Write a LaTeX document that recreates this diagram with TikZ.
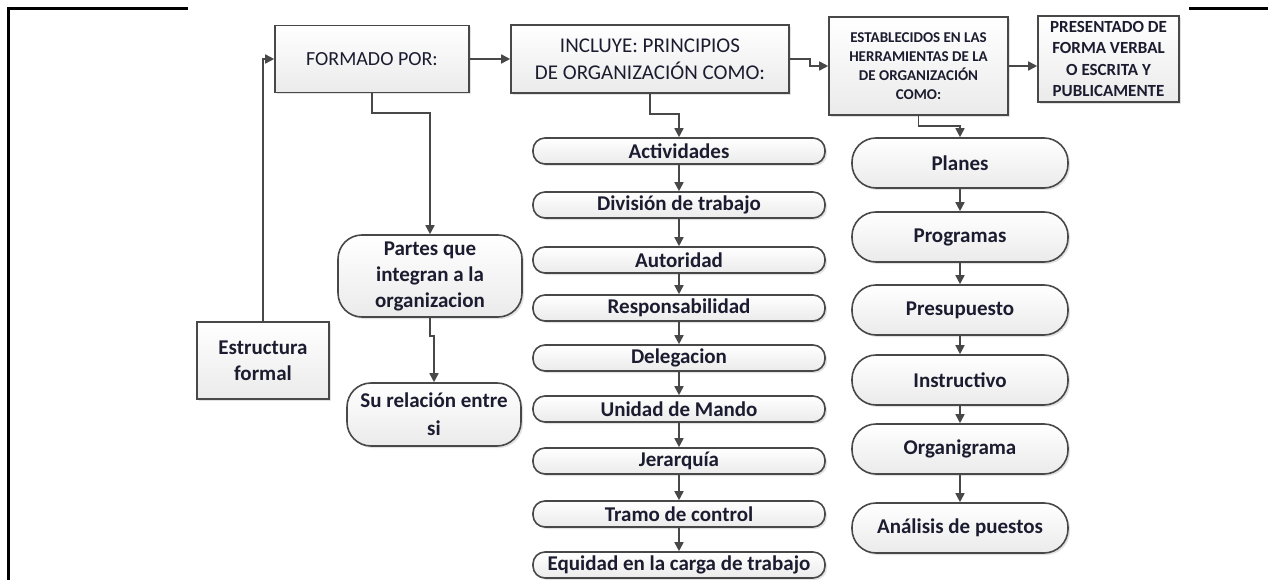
\documentclass[tikz,border=0pt]{standalone}
\usepackage{fontspec}
\setmainfont{Carlito}
\usetikzlibrary{arrows.meta,shadows}

\definecolor{linegray}{RGB}{72,72,72}
\definecolor{textdark}{RGB}{28,28,48}

\begin{document}
\begin{tikzpicture}[x=1pt, y=-1pt,
    box/.style={draw=linegray, line width=1.6pt, top color=white, bottom color=gray!16,
      drop shadow={shadow xshift=2pt, shadow yshift=-2pt, fill=gray!45, opacity=0.5},
      text=textdark, align=center, inner sep=0pt},
    thinpill/.style={box, rounded corners=12pt, minimum width=292pt, minimum height=26pt,
      font=\bfseries\fontsize{21}{26}\selectfont},
    fatpill/.style={box, rounded corners=24pt, minimum width=216pt, minimum height=50pt,
      font=\bfseries\fontsize{21}{26}\selectfont},
    arr/.style={draw=linegray, line width=1.6pt, -{Triangle[length=9pt,width=9pt]}}]

  \useasboundingbox (0,0) rectangle (1268,580);

  \def\midx{679}
  \def\rightx{960}

  % page frame
  \draw [line width=3pt] (188,9) -- (8,9) -- (8,582);
  \draw [line width=3pt] (1189,9) -- (1270,9);

  % top row
  \node [box, minimum width=194pt, minimum height=67pt,
         font=\fontsize{20}{24}\selectfont] (formado) at (372, 59) {FORMADO POR:};
  \node [box, minimum width=278pt, minimum height=68pt,
         font=\fontsize{21}{27}\selectfont] (incluye) at (650, 59)
        {INCLUYE: PRINCIPIOS\\DE ORGANIZACIÓN COMO:};
  \node [box, minimum width=179pt, minimum height=98pt,
         font=\bfseries\fontsize{15}{19}\selectfont] (estab) at (918.5, 66)
        {ESTABLECIDOS EN LAS\\HERRAMIENTAS DE LA\\DE ORGANIZACIÓN\\COMO:};
  \node [box, minimum width=141pt, minimum height=86pt,
         font=\bfseries\fontsize{17}{21.5}\selectfont] (presentado) at (1108.5, 59)
        {PRESENTADO DE\\FORMA VERBAL\\O ESCRITA Y\\PUBLICAMENTE};

  % left side
  \node [box, minimum width=132pt, minimum height=77pt,
         font=\bfseries\fontsize{21}{26}\selectfont] (estructura) at (263, 360.5)
        {Estructura\\formal};
  \node [box, rounded corners=24pt, minimum width=184pt, minimum height=82pt,
         font=\bfseries\fontsize{21}{26}\selectfont] (partes) at (430, 276)
        {Partes que\\integran a la\\organizacion};
  \node [box, rounded corners=24pt, minimum width=174pt, minimum height=63pt,
         font=\bfseries\fontsize{21}{28}\selectfont] (relacion) at (434, 414.5)
        {Su relación entre\\si};

  % principles column
  \node [thinpill] (actividades)     at (\midx, 151) {Actividades};
  \node [thinpill] (division)        at (\midx, 205) {División de trabajo};
  \node [thinpill] (autoridad)       at (\midx, 260) {Autoridad};
  \node [thinpill] (responsabilidad) at (\midx, 308) {Responsabilidad};
  \node [thinpill] (delegacion)      at (\midx, 358) {Delegacion};
  \node [thinpill] (mando)           at (\midx, 409) {Unidad de Mando};
  \node [thinpill] (jerarquia)       at (\midx, 461) {Jerarquía};
  \node [thinpill] (tramo)           at (\midx, 514) {Tramo de control};
  \node [thinpill] (equidad)         at (\midx, 565) {Equidad en la carga de trabajo};

  % tools column
  \node [fatpill] (planes)       at (\rightx, 163) {Planes};
  \node [fatpill] (programas)    at (\rightx, 237) {Programas};
  \node [fatpill] (presupuesto)  at (\rightx, 310) {Presupuesto};
  \node [fatpill] (instructivo)  at (\rightx, 380) {Instructivo};
  \node [fatpill] (organigrama)  at (\rightx, 449) {Organigrama};
  \node [fatpill] (analisis)     at (\rightx, 528) {Análisis de puestos};

  % top row links
  \draw [arr] (estructura.north) |- (formado.west);
  \draw [arr] (formado.east) -- (incluye.west);
  \draw [arr] (incluye.east) -- ++(20,0) |- (estab.west);
  \draw [arr] (estab.east) -- (estab.east -| presentado.west);

  % down from the top row
  \draw [arr] (formado.south) -- ++(0,20) -| (partes.north);
  \draw [arr] (partes.south) -- ++(0,18) -| (relacion.north);
  \draw [arr] (incluye.south) -- ++(0,20) -| (actividades.north);
  \draw [arr] (estab.south) -- ++(0,10) -| (planes.north);

  % principles chain
  \draw [arr] (actividades) -- (division);
  \draw [arr] (division) -- (autoridad);
  \draw [arr] (autoridad) -- (responsabilidad);
  \draw [arr] (responsabilidad) -- (delegacion);
  \draw [arr] (delegacion) -- (mando);
  \draw [arr] (mando) -- (jerarquia);
  \draw [arr] (jerarquia) -- (tramo);
  \draw [arr] (tramo) -- (equidad);

  % tools chain
  \draw [arr] (planes) -- (programas);
  \draw [arr] (programas) -- (presupuesto);
  \draw [arr] (presupuesto) -- (instructivo);
  \draw [arr] (instructivo) -- (organigrama);
  \draw [arr] (organigrama) -- (analisis);

\end{tikzpicture}
\end{document}
